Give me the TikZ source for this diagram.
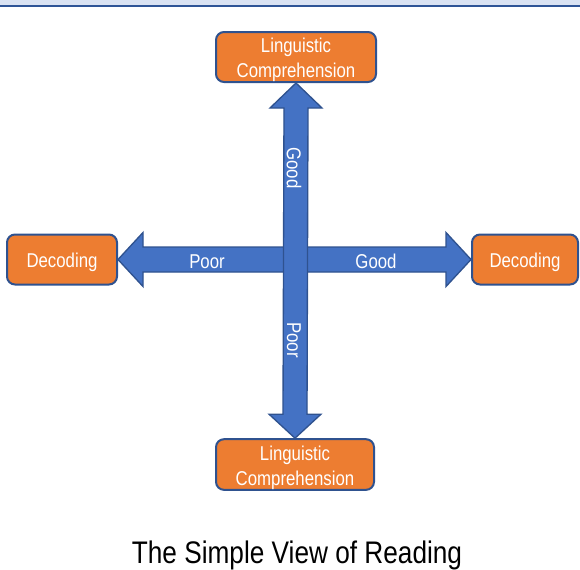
\documentclass[tikz,border=0pt]{standalone}
\usepackage{fontspec}
\setmainfont{Liberation Sans}[FakeStretch=0.84]
\usetikzlibrary{calc}
\definecolor{orng}{HTML}{ED7D31}
\definecolor{blu}{HTML}{4472C4}
\definecolor{bluedge}{HTML}{2F528F}
\definecolor{bandfill}{HTML}{DAE3F3}
\definecolor{bandline}{HTML}{2F5597}
\newcommand{\boxlines}[1]{\raisebox{-2.25pt}[\height][\depth]{\begin{tabular}{@{}c@{}}#1\end{tabular}}}
\begin{document}
\begin{tikzpicture}[x=0.75pt,y=-0.75pt,
  box/.style={draw=bluedge,line width=1.5pt,fill=orng,rounded corners=6pt,text=white,align=center,inner sep=0pt,
    font=\fontsize{15}{18.75}\selectfont},
  blockarrow/.style={fill=blu,draw=bluedge,line width=1pt,line join=miter},
  lbl/.style={text=white,inner sep=0pt,font=\fontsize{15}{18.75}\selectfont}]
\useasboundingbox (0,0) rectangle (580,569);
\fill[bandfill] (0,0) rectangle (580,5);
\draw[bandline,line width=1.5pt] (0,5.5) -- (580,5.5);

\node[box,minimum width=120pt,minimum height=37.5pt] (top) at (296,57) {\boxlines{Linguistic\\Comprehension}};
\node[box,minimum width=118.5pt,minimum height=38pt] (bot) at (295,464.5) {\boxlines{Linguistic\\Comprehension}};
\node[box,minimum width=82.5pt,minimum height=37.5pt] (left) at (62,259.5) {\boxlines{Decoding}};
\node[box,minimum width=79.5pt,minimum height=37.5pt] (right) at (525,259.5) {\boxlines{Decoding}};

\coordinate (L) at (left.east);
\coordinate (R) at (right.west);
\coordinate (T) at (top.south);
\coordinate (B) at (bot.north);

\draw[blockarrow] (L) -- ($(L)+(25,-27)$) -- ($(L)+(25,-12.5)$) -- ($(R)+(-25,-12.5)$) -- ($(R)+(-25,-27)$)
  -- (R) -- ($(R)+(-25,27)$) -- ($(R)+(-25,12.5)$) -- ($(L)+(25,12.5)$) -- ($(L)+(25,27)$) -- cycle;
\draw[blockarrow] (T) -- ($(T)+(26,25)$) -- ($(T)+(12,25)$) -- ($(B)+(12,-24)$) -- ($(B)+(26,-24)$)
  -- (B) -- ($(B)+(-26,-24)$) -- ($(B)+(-12,-24)$) -- ($(T)+(-12,25)$) -- ($(T)+(-26,25)$) -- cycle;

\node[lbl,rotate=-90] (vgood) at (294,168) {Good};
\node[lbl,rotate=-90] (vpoor) at (294,340) {Poor};
\node[lbl] (hpoor) at (207,261.5) {Poor};
\node[lbl] (hgood) at (376,261.5) {Good};

\node[inner sep=0pt,font=\fontsize{23.4}{28}\selectfont] (title) at (297,555) {The Simple View of Reading};
\end{tikzpicture}
\end{document}
